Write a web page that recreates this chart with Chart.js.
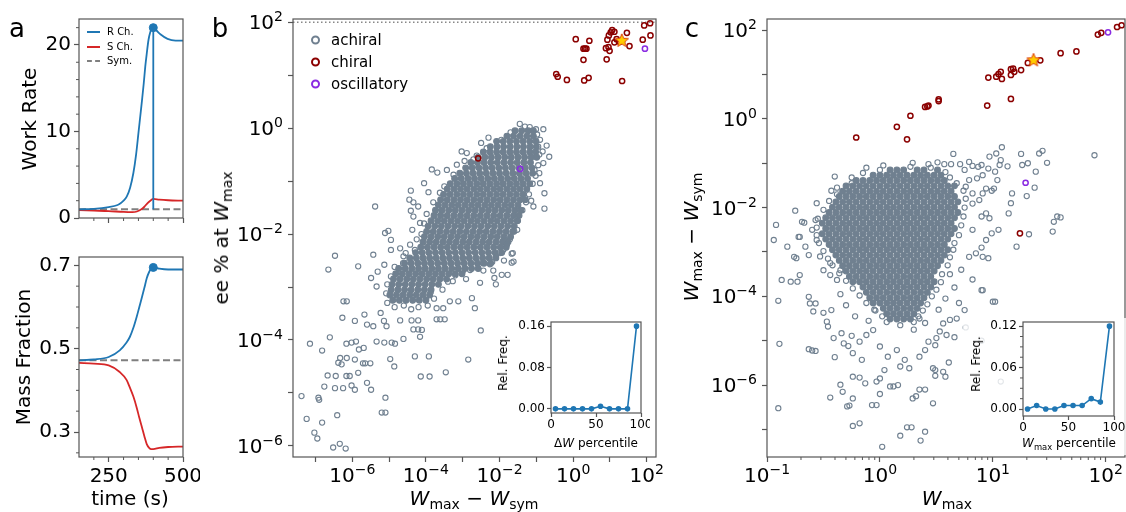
<!DOCTYPE html>
<html>
<head>
<meta charset="utf-8">
<title>work rate / chirality figure</title>
<script src="https://cdn.jsdelivr.net/npm/chart.js@4.4.1/dist/chart.umd.min.js"></script>
<style>
  body { margin: 0; background: #fff; }
  #fig { position: relative; width: 1126px; height: 512px; overflow: hidden; font-family: "DejaVu Sans", sans-serif; color: #000; }
  #fig canvas { position: absolute; }
  .t { position: absolute; white-space: nowrap; font-size: 20px; line-height: 1; transform: translate(-50%, -50%); }
  .t.v { transform: translate(-50%, -50%) rotate(-90deg); }
  .t sub { font-size: 70%; vertical-align: -0.3em; line-height: 0; }
  .t.small { font-size: 12px; }
  .t.panel { font-size: 26px; }
  .inset { background: rgba(255, 255, 255, 0.8); }
  .leg { position: absolute; font-size: 15px; line-height: 1; white-space: nowrap; transform: translateY(-50%); }
  .ring { position: absolute; left: -20px; top: 50%; width: 5px; height: 5px; margin-top: -4.5px; border: 2px solid; border-radius: 50%; }
  .lega { position: absolute; font-size: 10px; line-height: 1; white-space: nowrap; transform: translateY(-50%); }
  .lega span { position: absolute; left: -20px; top: 50%; width: 13px; margin-top: -1px; border-top: 2px solid; }
</style>
</head>
<body>
<div id="fig">
  <canvas id="cA1" width="200" height="230" style="left:0;top:0"></canvas>
  <canvas id="cA2" width="200" height="272" style="left:0;top:240px"></canvas>
  <canvas id="cB" width="470" height="512" style="left:200px;top:0"></canvas>
  <canvas id="cC" width="446" height="512" style="left:680px;top:0"></canvas>
  <canvas id="cBi" class="inset" width="160" height="137" style="left:490px;top:318px"></canvas>
  <canvas id="cCi" class="inset" width="163" height="137" style="left:963px;top:318px"></canvas>

  <div class="t panel" style="left:17px;top:28px">a</div>
  <div class="t panel" style="left:220px;top:28px">b</div>
  <div class="t panel" style="left:692px;top:28px">c</div>

  <div class="lega" style="left:107px;top:32px"><span style="border-color:#1f77b4"></span>R Ch.</div>
  <div class="lega" style="left:107px;top:47px"><span style="border-color:#d62728"></span>S Ch.</div>
  <div class="lega" style="left:107px;top:61px"><span style="border-color:#7f7f7f;border-top-style:dashed"></span>Sym.</div>

  <div class="leg" style="left:331px;top:40px"><span class="ring" style="border-color:#708090"></span>achiral</div>
  <div class="leg" style="left:331px;top:62px"><span class="ring" style="border-color:#8b0000"></span>chiral</div>
  <div class="leg" style="left:331px;top:84px"><span class="ring" style="border-color:#8a2be2"></span>oscillatory</div>

  <div class="t v" style="left:29px;top:119px">Work Rate</div>
  <div class="t v" style="left:23px;top:357px">Mass Fraction</div>
  <div class="t" style="left:130px;top:498px">time (s)</div>
  <div class="t v" style="left:221px;top:238px">ee % at <i>W</i><sub>max</sub></div>
  <div class="t" style="left:474px;top:498px"><i>W</i><sub>max</sub> − <i>W</i><sub>sym</sub></div>
  <div class="t v" style="left:691px;top:237px"><i>W</i><sub>max</sub> − <i>W</i><sub>sym</sub></div>
  <div class="t" style="left:947px;top:498px"><i>W</i><sub>max</sub></div>
  <div class="t v small" style="left:503px;top:363px">Rel. Freq.</div>
  <div class="t small" style="left:596px;top:443px">Δ<i>W</i> percentile</div>
  <div class="t v small" style="left:976px;top:364px">Rel. Freq.</div>
  <div class="t small" style="left:1069px;top:443px"><i>W</i><sub>max</sub> percentile</div>
</div>

<script>
// ---- panel a : work rate and mass fraction vs time ----
const tRate = [150,200,250,280,290,300,311,322,333,342,350,356,362,368,373,378,384,390,395,400,410,425,448,475,500];
const rateR = [1.0,1.05,1.25,1.5,1.7,2.0,2.5,3.5,5.2,7.3,9.8,11.7,13.6,15.6,17.5,19.0,20.6,21.5,21.9,22.0,21.7,21.2,20.7,20.5,20.5];
const tRateS = [150,200,250,300,330,345,360,370,380,390,400,420,450,500];
const rateS = [0.9,0.85,0.8,0.7,0.68,0.75,1.0,1.3,1.7,2.0,2.2,2.12,2.05,2.0];
const tSym = [150,500];
const rateSym = [1.0,1.0];
const tPeak = 400;
const ratePeak = 22.0;
const rateDrop = [1.0,22.0];

const tMass = [150,200,250,287,310,321,333,344,353,362,370,378,386,393,400,420,450,500];
const massR = [0.472,0.474,0.480,0.496,0.515,0.528,0.550,0.576,0.600,0.624,0.646,0.669,0.684,0.692,0.695,0.692,0.690,0.690];
const massS = [0.466,0.464,0.460,0.444,0.425,0.407,0.385,0.359,0.334,0.311,0.290,0.271,0.262,0.259,0.259,0.262,0.264,0.265];
const massSym = [0.472,0.472];
const massPeak = 0.695;

const aTicksX = [250,500];
const aMinorX = [200,300,350,400,450];
const rateTicks = [0,10,20];
const rateMinor = [2,4,6,8,12,14,16,18,22];
const massTicks = [0.3,0.5,0.7];
const massMinor = [0.25,0.35,0.4,0.45,0.55,0.6,0.65];

// ---- panel b : log10 of (Wmax - Wsym, ee %) ----
// dense core, one row per log10(ee) value
const bCoreRows = [
  [-0.05,[-1.58,-1.40,-1.22,-1.08]],
  [-0.15,[-1.80,-1.62,-1.44,-1.26,-1.08]],
  [-0.25,[-2.08,-1.90,-1.72,-1.54,-1.36,-1.18,-1.01]],
  [-0.35,[-2.25,-2.07,-1.89,-1.71,-1.53,-1.35,-1.17,-1.00]],
  [-0.45,[-2.44,-2.26,-2.08,-1.90,-1.72,-1.54,-1.36,-1.18,-1.02]],
  [-0.55,[-2.58,-2.40,-2.22,-2.04,-1.86,-1.68,-1.50,-1.32,-1.14,-0.99]],
  [-0.65,[-2.78,-2.60,-2.42,-2.24,-2.06,-1.88,-1.70,-1.52,-1.34,-1.16]],
  [-0.75,[-2.92,-2.74,-2.56,-2.38,-2.20,-2.02,-1.84,-1.66,-1.48,-1.30,-1.12]],
  [-0.85,[-3.08,-2.90,-2.72,-2.54,-2.36,-2.18,-2.00,-1.82,-1.64,-1.46,-1.28,-1.10]],
  [-0.95,[-3.22,-3.04,-2.86,-2.68,-2.50,-2.32,-2.14,-1.96,-1.78,-1.60,-1.42,-1.24]],
  [-1.05,[-3.34,-3.16,-2.98,-2.80,-2.62,-2.44,-2.26,-2.08,-1.90,-1.72,-1.54,-1.36,-1.18]],
  [-1.15,[-3.42,-3.24,-3.06,-2.88,-2.70,-2.52,-2.34,-2.16,-1.98,-1.80,-1.62,-1.44,-1.26]],
  [-1.25,[-3.52,-3.34,-3.16,-2.98,-2.80,-2.62,-2.44,-2.26,-2.08,-1.90,-1.72,-1.54,-1.36]],
  [-1.35,[-3.60,-3.42,-3.24,-3.06,-2.88,-2.70,-2.52,-2.34,-2.16,-1.98,-1.80,-1.62,-1.44,-1.30]],
  [-1.45,[-3.66,-3.48,-3.30,-3.12,-2.94,-2.76,-2.58,-2.40,-2.22,-2.04,-1.86,-1.68,-1.50]],
  [-1.55,[-3.74,-3.56,-3.38,-3.20,-3.02,-2.84,-2.66,-2.48,-2.30,-2.12,-1.94,-1.76,-1.58,-1.42]],
  [-1.65,[-3.78,-3.60,-3.42,-3.24,-3.06,-2.88,-2.70,-2.52,-2.34,-2.16,-1.98,-1.80,-1.62,-1.47]],
  [-1.75,[-3.86,-3.68,-3.50,-3.32,-3.14,-2.96,-2.78,-2.60,-2.42,-2.24,-2.06,-1.88,-1.70,-1.52]],
  [-1.85,[-3.94,-3.76,-3.58,-3.40,-3.22,-3.04,-2.86,-2.68,-2.50,-2.32,-2.14,-1.96,-1.78,-1.60]],
  [-1.95,[-3.98,-3.80,-3.62,-3.44,-3.26,-3.08,-2.90,-2.72,-2.54,-2.36,-2.18,-2.00,-1.82,-1.64]],
  [-2.05,[-4.04,-3.86,-3.68,-3.50,-3.32,-3.14,-2.96,-2.78,-2.60,-2.42,-2.24,-2.06,-1.88,-1.70]],
  [-2.15,[-4.08,-3.90,-3.72,-3.54,-3.36,-3.18,-3.00,-2.82,-2.64,-2.46,-2.28,-2.10,-1.92,-1.77]],
  [-2.25,[-4.14,-3.96,-3.78,-3.60,-3.42,-3.24,-3.06,-2.88,-2.70,-2.52,-2.34,-2.16,-1.98,-1.82]],
  [-2.35,[-4.28,-4.10,-3.92,-3.74,-3.56,-3.38,-3.20,-3.02,-2.84,-2.66,-2.48,-2.30,-2.12,-1.94]],
  [-2.45,[-4.44,-4.26,-4.08,-3.90,-3.72,-3.54,-3.36,-3.18,-3.00,-2.82,-2.64,-2.46,-2.28,-2.10]],
  [-2.55,[-4.58,-4.40,-4.22,-4.04,-3.86,-3.68,-3.50,-3.32,-3.14,-2.96,-2.78,-2.60,-2.42,-2.24]],
  [-2.65,[-4.74,-4.56,-4.38,-4.20,-4.02,-3.84,-3.66,-3.48,-3.30,-3.12,-2.94,-2.76,-2.58]],
  [-2.75,[-4.82,-4.64,-4.46,-4.28,-4.10,-3.92,-3.74,-3.56,-3.38,-3.20,-3.02]],
  [-2.85,[-4.88,-4.70,-4.52,-4.34,-4.16,-3.98,-3.80,-3.62,-3.44]],
  [-2.95,[-4.92,-4.74,-4.56,-4.38,-4.20,-4.02,-3.84,-3.66]],
  [-3.05,[-4.94,-4.76,-4.58,-4.40,-4.22,-4.04,-3.86]],
  [-3.15,[-4.98,-4.80,-4.62,-4.44,-4.26,-4.08,-3.90]],
  [-3.25,[-4.90,-4.72,-4.54,-4.36,-4.18,-4.00]]
];
const bAchiral = [
  [-1.31,0.03],[-1.18,0.02],[-1.01,-0.02],[-0.81,-0.02],[-0.90,-0.22],[-0.72,-0.33],[-0.83,-0.44],[-0.65,-0.54],
  [-0.81,-0.66],[-0.92,-0.85],[-1.05,-0.79],[-0.90,-1.04],[-0.78,-1.23],[-0.78,-1.52],[-1.08,-1.48],[-1.14,-1.37],
  [-1.52,-1.92],[-1.64,-2.36],[-1.62,-2.52],[-1.80,-2.20],[-1.99,-2.36],[-1.88,-2.50],
  [-3.03,-0.44],[-2.89,-0.47],[-2.71,-0.59],[-2.50,-0.28],[-3.16,-0.69],[-3.43,-0.79],[-3.84,-0.78],[-3.69,-0.84],
  [-4.05,-1.04],[-4.41,-1.18],[-3.93,-1.21],[-4.45,-1.35],[-4.34,-1.40],[-4.21,-1.48],[-4.41,-1.56],[-5.38,-1.48],
  [-4.34,-1.67],[-4.16,-1.79],[-4.37,-1.92],[-5.11,-1.98],[-5.02,-1.94],[-4.95,-2.11],[-4.95,-2.30],[-4.70,-2.27],
  [-4.43,-2.20],[-5.43,-2.39],[-5.13,-2.58],[-4.61,-2.42],[-6.47,-2.41],[-5.84,-2.61],[-6.65,-2.67],
  [-5.49,-2.83],[-5.34,-2.99],[-5.31,-2.71],[-6.24,-3.27],[-6.15,-3.27],[-6.27,-3.58],[-5.93,-3.64],[-5.67,-3.52],
  [-5.60,-3.71],[-5.43,-3.74],[-5.14,-3.64],[-5.23,-3.49],[-5.07,-3.74],[-4.70,-3.63],[-4.39,-3.63],[-4.21,-3.63],
  [-4.11,-3.81],[-4.16,-3.94],[-4.61,-3.98],[-4.84,-4.07],[-5.13,-4.05],[-4.93,-4.05],[-5.34,-4.03],[-5.90,-4.03],
  [-5.69,-4.15],[-5.82,-4.18],[-6.02,-4.05],[-6.16,-4.07],[-6.33,-4.34],[-6.15,-4.34],[-6.38,-4.43],[-6.29,-4.46],
  [-5.93,-4.37],[-5.71,-4.44],[-5.65,-4.44],[-5.51,-4.44],[-5.84,-4.62],[-6.61,-3.95],[-7.15,-4.07],[-6.82,-4.20],
  [-6.67,-4.67],[-6.45,-4.68],[-6.47,-4.91],[-6.16,-4.68],[-6.07,-4.68],[-6.25,-4.91],[-6.02,-4.86],[-5.93,-4.94],
  [-5.60,-4.81],[-5.49,-4.94],[-6.76,-4.88],[-6.92,-5.09],[-6.90,-5.13],[-7.38,-5.06],[-7.24,-5.49],[-6.82,-5.56],
  [-6.41,-5.42],[-7.03,-5.75],[-6.95,-5.86],[-6.52,-6.03],[-6.34,-5.96],[-6.18,-6.05],[-5.20,-5.37],[-5.10,-5.37],
  [-5.10,-5.09],[-4.97,-4.36],[-4.86,-4.50],[-4.30,-4.31],[-3.92,-4.31],[-4.14,-4.69],[-3.90,-4.69],[-3.46,-4.61],
  [-2.85,-4.37],[-2.51,-3.82],[-3.71,-3.61],[-3.61,-3.61],[-3.49,-3.61],[-4.21,-3.80],[-4.34,-3.80],[-3.35,-3.27],
  [-3.12,-3.27],[-3.71,-3.40],[-3.53,-3.40],[-3.87,-3.10],[-3.27,-2.89],[-2.91,-2.85],[-2.67,-3.40],[-2.75,-3.21],
  [-2.53,-2.92],[-2.44,-2.69],[-2.17,-2.69],[-2.26,-2.57],[-2.20,-2.53],[-2.10,-2.95],[-2.14,-2.83],[-1.94,-2.77],
  [-1.78,-2.77],[-1.67,-2.54],[-1.67,-2.37],
  // rim of the dense core
  [-2.30,-0.18],[-2.35,-0.38],[-2.62,-0.52],[-2.70,-0.70],[-2.95,-0.62],[-3.25,-0.88],[-3.10,-1.00],[-3.50,-1.10],
  [-3.62,-1.22],[-3.80,-1.40],[-3.70,-1.58],[-3.98,-1.62],[-4.05,-1.80],[-4.12,-2.00],[-4.25,-2.10],[-4.30,-2.30],
  [-4.55,-2.36],[-4.62,-2.55],[-4.85,-2.62],[-4.95,-2.80],[-5.05,-2.95],[-5.08,-3.12],[-5.05,-3.30],[-4.85,-3.38],
  [-4.60,-3.35],[-4.40,-3.42],[-4.20,-3.38],[-3.95,-3.35],[-3.78,-3.22],[-3.55,-3.05],[-3.40,-2.90],[-3.20,-2.78],
  [-3.00,-2.70],[-2.80,-2.68],[-2.45,-2.55],[-2.10,-2.40],[-1.90,-2.30],[-1.72,-2.10],[-1.60,-1.95],[-1.50,-1.75],
  [-1.38,-1.55],[-1.28,-1.40],[-1.20,-1.25],[-1.10,-1.05],[-1.02,-0.90],[-0.95,-0.70],[-0.92,-0.50],[-0.95,-0.35],
  [-0.98,-0.12],[-1.45,0.08],[-1.70,-0.08],[-1.95,-0.22]
];
const bChiral = [
  [-0.46,1.02],[-0.42,0.97],[-0.17,0.91],[0.07,1.68],[0.28,1.29],[0.28,1.50],[0.32,1.50],[0.36,1.50],[0.30,0.90],
  [0.42,0.95],[0.44,1.65],[0.91,1.30],[0.89,1.51],[0.96,1.53],[0.93,1.67],[0.97,1.75],[1.02,1.81],[1.06,1.85],
  [1.12,1.82],[0.99,1.46],[1.12,1.62],[1.18,1.68],[1.26,1.63],[1.46,1.80],[1.53,1.55],[1.33,0.89],[1.89,1.67],
  [1.93,1.94],[2.09,1.98],[2.10,1.75],[-2.58,-0.57]
];
const bOscillatory = [[1.95,1.50],[-1.44,-0.77]];
const bStar = [[1.32,1.65]];
const eeCeiling = 100;
const bRangeX = [2.45e-8, 178];
const bRangeY = [6.17e-7, 115];
const bTicksX = [1e-7,1e-6,1e-5,1e-4,1e-3,1e-2,1e-1,1,10,100];
const bTicksY = [1e-6,1e-5,1e-4,1e-3,1e-2,1e-1,1,10,100];

// ---- panel c : log10 of (Wmax, Wmax - Wsym) ----
const cCoreRows = [
  [-1.15,[0.09,0.15,0.21,0.33,0.39,0.51]],
  [-1.27,[-0.06,0.00,0.06,0.12,0.18,0.24,0.30,0.36,0.42,0.48,0.54]],
  [-1.39,[-0.21,-0.15,-0.09,-0.03,0.03,0.09,0.15,0.21,0.27,0.33,0.39,0.45,0.51,0.57]],
  [-1.51,[-0.30,-0.24,-0.18,-0.12,-0.06,0.00,0.06,0.12,0.18,0.24,0.30,0.36,0.42,0.48,0.54,0.60,0.66]],
  [-1.63,[-0.33,-0.27,-0.21,-0.15,-0.09,-0.03,0.03,0.09,0.15,0.21,0.27,0.33,0.39,0.45,0.51,0.57,0.63]],
  [-1.75,[-0.36,-0.30,-0.24,-0.18,-0.12,-0.06,0.00,0.06,0.12,0.18,0.24,0.30,0.36,0.42,0.48,0.54,0.60,0.66]],
  [-1.87,[-0.39,-0.33,-0.27,-0.21,-0.15,-0.09,-0.03,0.03,0.09,0.15,0.21,0.27,0.33,0.39,0.45,0.51,0.57,0.63,0.69]],
  [-1.99,[-0.42,-0.36,-0.30,-0.24,-0.18,-0.12,-0.06,0.00,0.06,0.12,0.18,0.24,0.30,0.36,0.42,0.48,0.54,0.60,0.66]],
  [-2.11,[-0.45,-0.39,-0.33,-0.27,-0.21,-0.15,-0.09,-0.03,0.03,0.09,0.15,0.21,0.27,0.33,0.39,0.45,0.51,0.57,0.63,0.69]],
  [-2.23,[-0.48,-0.42,-0.36,-0.30,-0.24,-0.18,-0.12,-0.06,0.00,0.06,0.12,0.18,0.24,0.30,0.36,0.42,0.48,0.54,0.60,0.66]],
  [-2.35,[-0.51,-0.45,-0.39,-0.33,-0.27,-0.21,-0.15,-0.09,-0.03,0.03,0.09,0.15,0.21,0.27,0.33,0.39,0.45,0.51,0.57,0.63]],
  [-2.47,[-0.48,-0.42,-0.36,-0.30,-0.24,-0.18,-0.12,-0.06,0.00,0.06,0.12,0.18,0.24,0.30,0.36,0.42,0.48,0.54,0.60,0.66]],
  [-2.59,[-0.51,-0.45,-0.39,-0.33,-0.27,-0.21,-0.15,-0.09,-0.03,0.03,0.09,0.15,0.21,0.27,0.33,0.39,0.45,0.51,0.57,0.63]],
  [-2.71,[-0.48,-0.42,-0.36,-0.30,-0.24,-0.18,-0.12,-0.06,0.00,0.06,0.12,0.18,0.24,0.30,0.36,0.42,0.48,0.54,0.60]],
  [-2.83,[-0.45,-0.39,-0.33,-0.27,-0.21,-0.15,-0.09,-0.03,0.03,0.09,0.15,0.21,0.27,0.33,0.39,0.45,0.51,0.57]],
  [-2.95,[-0.42,-0.36,-0.30,-0.24,-0.18,-0.12,-0.06,0.00,0.06,0.12,0.18,0.24,0.30,0.36,0.42,0.48,0.54,0.60]],
  [-3.07,[-0.39,-0.33,-0.27,-0.21,-0.15,-0.09,-0.03,0.03,0.09,0.15,0.21,0.27,0.33,0.39,0.45,0.51,0.57]],
  [-3.19,[-0.36,-0.30,-0.24,-0.18,-0.12,-0.06,0.00,0.06,0.12,0.18,0.24,0.30,0.36,0.42,0.48,0.54]],
  [-3.31,[-0.33,-0.27,-0.21,-0.15,-0.09,-0.03,0.03,0.09,0.15,0.21,0.27,0.33,0.39,0.45,0.51]],
  [-3.43,[-0.30,-0.24,-0.18,-0.12,-0.06,0.00,0.06,0.12,0.18,0.24,0.30,0.36,0.42,0.48]],
  [-3.55,[-0.27,-0.21,-0.15,-0.09,-0.03,0.03,0.09,0.15,0.21,0.27,0.33,0.39,0.45]],
  [-3.67,[-0.24,-0.18,-0.12,-0.06,0.00,0.06,0.12,0.18,0.24,0.30,0.36,0.42,0.48]],
  [-3.79,[-0.15,-0.09,-0.03,0.03,0.09,0.15,0.21,0.27,0.33,0.39,0.45]],
  [-3.91,[-0.12,-0.06,0.00,0.06,0.12,0.18,0.24,0.30,0.36,0.42]],
  [-4.03,[-0.09,-0.03,0.03,0.09,0.15,0.21,0.27,0.33,0.39]],
  [-4.15,[-0.06,0.00,0.06,0.12,0.18,0.24,0.30,0.36]],
  [-4.27,[0.03,0.09,0.15,0.21,0.27,0.33]],
  [-4.39,[0.06,0.12,0.18,0.24,0.30]],
  [-4.51,[0.09,0.15,0.21,0.27]]
];
const cAchiral = [
  [-0.25,-1.32],[-0.43,-1.62],[-0.56,-1.90],[-0.75,-2.07],[-0.92,-2.39],[-0.94,-2.73],[-0.82,-2.88],[-0.69,-2.32],
  [-0.67,-2.34],[-0.72,-2.66],[-0.71,-2.66],[-0.76,-3.11],[-0.74,-3.14],[-0.63,-3.07],[-0.66,-2.88],[-0.60,-2.50],
  [-0.56,-2.73],[-0.57,-2.28],[-0.38,-1.55],[-0.12,-1.10],[0.03,-1.05],[-0.40,-1.30],
  [0.29,-0.99],[0.43,-1.02],[0.51,-0.98],[0.57,-1.02],[0.65,-0.79],[0.63,-1.02],[0.71,-1.02],[0.75,-1.15],
  [0.79,-0.97],[0.82,-1.06],[0.87,-1.08],[0.90,-1.04],[0.91,-1.27],[0.97,-0.85],[1.03,-0.78],[1.07,-0.93],
  [0.96,-1.12],[1.02,-1.19],[1.04,-1.38],[1.06,-1.04],[1.13,-1.07],[1.08,-0.64],[1.25,-0.79],[1.26,-1.04],
  [1.31,-1.00],[1.38,-1.19],[1.41,-0.78],[1.44,-0.72],[1.48,-0.99],[1.90,-0.82],[1.37,-1.55],[1.30,-1.74],
  [1.17,-1.68],[1.16,-1.90],[1.14,-2.13],[1.21,-2.88],[1.32,-2.60],[1.57,-2.20],[1.60,-2.22],[1.54,-2.32],
  [1.53,-2.54],[1.05,-2.50],[0.99,-2.58],[0.94,-2.73],[0.90,-2.90],[0.88,-1.83],[0.91,-1.68],[0.94,-1.57],
  [0.99,-1.62],[1.01,-1.57],[0.94,-2.13],[0.90,-2.20],[0.97,-2.24],[0.82,-2.50],[0.85,-3.03],[0.79,-3.11],
  [0.91,-3.11],[0.96,-3.14],[0.82,-1.91],[0.79,-1.38],[0.86,-1.34],[0.76,-1.53],[0.82,-1.68],
  [0.62,-3.50],[0.66,-3.80],[0.72,-3.40],[0.58,-4.05],[0.70,-4.15],[0.52,-4.30],[-0.35,-3.95],[-0.30,-4.20],
  [-0.22,-4.45],[-0.10,-4.55],[0.40,-4.60],[0.30,-4.75],[-0.05,-4.30],[0.35,-4.50],
  [-0.90,-4.10],[-0.89,-5.07],[-0.90,-6.52],[-0.87,-3.63],[-0.79,-3.67],[-0.73,-3.67],[-0.71,-3.52],[-0.63,-4.01],
  [-0.62,-4.16],[-0.59,-4.34],[-0.57,-4.16],[-0.63,-5.19],[-0.60,-5.22],[-0.57,-5.23],[-0.50,-4.37],[-0.47,-4.57],
  [-0.46,-4.68],[-0.41,-4.94],[-0.40,-5.37],[-0.43,-4.31],[-0.44,-3.52],[-0.38,-3.63],[-0.35,-3.41],[-0.44,-3.25],
  [-0.53,-3.10],[-0.50,-3.41],[-0.34,-4.83],[-0.32,-5.06],[-0.28,-5.12],[-0.25,-4.89],[-0.24,-5.28],[-0.16,-5.43],
  [-0.18,-5.02],[-0.12,-4.87],[-0.06,-4.76],[0.00,-5.13],[0.04,-5.66],[0.00,-5.85],[-0.03,-5.92],[0.07,-5.36],
  [0.15,-5.21],[0.18,-5.58],[0.22,-5.43],[0.26,-5.62],[0.35,-5.36],[0.40,-5.21],[0.43,-5.02],[0.49,-5.10],
  [0.50,-4.94],[0.53,-4.79],[0.59,-4.87],[0.56,-4.61],[0.62,-4.53],[0.68,-4.50],[0.75,-4.31],[0.76,-4.70],
  [0.66,-4.92],[0.61,-5.49],[0.56,-5.70],[0.47,-5.62],[0.49,-5.66],[0.58,-5.81],[0.82,-3.62],[0.90,-3.86],
  [0.91,-3.86],[1.00,-4.12],[1.02,-4.12],[0.47,-6.41],[0.40,-7.05],[0.36,-7.25],[0.24,-6.95],[0.28,-6.95],
  [0.18,-7.14],[0.02,-7.39],[-0.18,-6.86],[-0.24,-6.92],[-0.29,-6.48],[-0.27,-6.46],[-0.33,-6.15],[-0.35,-5.99],
  [-0.44,-6.28],[-0.24,-6.30],[-0.07,-6.45],[-0.03,-6.45],[0.00,-6.20],[0.09,-6.03],[0.12,-6.03],[0.29,-6.30],
  [0.32,-6.25],[0.35,-6.10],[0.40,-6.10],[0.49,-5.79],[-0.24,-5.81],[-0.18,-5.83],[-0.13,-5.96],[0.16,-6.00],
  [0.90,-5.00],[1.07,-5.92],
  // rim of the dense core
  [0.00,-1.15],[-0.15,-1.22],[0.27,-1.08],[0.45,-1.10],[0.58,-1.20],[0.62,-1.32],[-0.25,-1.45],[0.68,-1.45],
  [-0.38,-1.70],[0.74,-1.62],[-0.45,-1.85],[0.76,-1.80],[-0.50,-2.05],[0.75,-2.00],[-0.55,-2.25],[0.74,-2.20],
  [-0.56,-2.45],[0.72,-2.40],[-0.56,-2.62],[0.70,-2.62],[-0.54,-2.80],[0.66,-2.80],[-0.50,-2.98],[0.65,-2.95],
  [-0.46,-3.15],[0.62,-3.12],[-0.42,-3.30],[0.60,-3.30],[-0.36,-3.48],[0.55,-3.50],[-0.30,-3.65],[0.54,-3.68],
  [-0.24,-3.82],[0.50,-3.85],[-0.18,-3.98],[0.46,-4.00],[-0.12,-4.15],[0.42,-4.18],[-0.04,-4.32],[0.38,-4.32],
  [0.02,-4.45],[0.34,-4.45],[0.06,-4.58],[0.30,-4.58],[0.18,-4.65]
];
const cChiral = [
  [-0.21,-0.42],[0.15,-0.18],[0.24,-0.46],[0.27,0.07],[0.40,0.27],[0.42,0.28],[0.43,0.30],[0.52,0.44],[0.52,0.40],
  [0.95,0.30],[1.16,0.45],[0.96,0.93],[1.03,0.95],[1.05,1.01],[1.07,1.06],[1.08,0.90],[1.16,0.99],[1.16,1.12],
  [1.18,1.13],[1.19,1.06],[1.25,1.10],[1.31,1.26],[1.42,1.32],[1.60,1.48],[1.74,1.52],[1.93,1.90],[1.96,1.94],
  [2.10,2.07],[2.14,2.11],[1.24,-2.58]
];
const cOscillatory = [[2.02,1.95],[1.29,-1.44]];
const cStar = [[1.36,1.32]];
const cRangeX = [0.1, 148];
const cRangeY = [2.4e-8, 178];
const cTicksX = [0.1,1,10,100];
const cMinorX = [0.2,0.3,0.4,0.5,0.6,0.7,0.8,0.9,2,3,4,5,6,7,8,9,20,30,40,50,60,70,80,90];
const cTicksY = [1e-7,1e-6,1e-5,1e-4,1e-3,1e-2,1e-1,1,10,100];

// ---- insets : relative frequency per percentile bin ----
const pctBins = [5,15,25,35,45,55,65,75,85,95];
const relFreqB = [0,0,0,0,0,0.005,0,0,0,0.16];
const relFreqC = [0,0.005,0,0,0.005,0.005,0.005,0.015,0.01,0.12];
const pctTicks = [0,50,100];
const relTicksB = [0,0.08,0.16];
const relTicksC = [0,0.06,0.12];
const relMinorC = [0.015,0.03,0.045,0.075,0.09,0.105];

// ---------------------------------------------------------------
const FONT = 'DejaVu Sans';
const EDGE = '#555';
const BLUE = '#1f77b4', RED = '#d62728', GREY = '#7f7f7f';
const ACHIRAL = '#708090', CHIRAL = '#8b0000', OSC = '#8a2be2';

const xy = (xs, ys) => xs.map((x, i) => ({x: x, y: ys[i]}));
const fromLog = arr => arr.map(p => ({x: Math.pow(10, p[0]), y: Math.pow(10, p[1])}));
const fromRows = rows => rows.flatMap(r => r[1].map(lx => ({x: Math.pow(10, lx), y: Math.pow(10, r[0])})));

// "10" with a raised exponent, like the mathtext labels
function drawPow(c, v, x, y, align) {
  const e = String(Math.round(Math.log10(v))).replace('-', '\u2212');
  c.font = '20px "' + FONT + '"';
  const wb = c.measureText('10').width;
  c.font = '14px "' + FONT + '"';
  const we = c.measureText(e).width;
  const left = align === 'center' ? x - (wb + we) / 2 : x - wb - we;
  c.textAlign = 'left'; c.textBaseline = 'alphabetic'; c.fillStyle = '#000';
  c.font = '20px "' + FONT + '"'; c.fillText('10', left, y);
  c.font = '14px "' + FONT + '"'; c.fillText(e, left + wb, y - 8);
}
function expLabels(xEven, yEven) {
  return {
    id: 'expLabels',
    afterDraw(chart) {
      const a = chart.chartArea, c = chart.ctx;
      c.save();
      chart.scales.x.ticks.forEach(t => {
        if (xEven && Math.round(Math.log10(t.value)) % 2 !== 0) return;
        drawPow(c, t.value, chart.scales.x.getPixelForValue(t.value), a.bottom + 25, 'center');
      });
      chart.scales.y.ticks.forEach(t => {
        if (yEven && Math.round(Math.log10(t.value)) % 2 !== 0) return;
        drawPow(c, t.value, a.left - 10, chart.scales.y.getPixelForValue(t.value) + 7, 'right');
      });
      c.restore();
    }
  };
}

// box around the plot area, optional white fill
function frame(fillWhite) {
  return {
    id: 'frame',
    beforeDatasetsDraw(chart) {
      if (!fillWhite) return;
      const a = chart.chartArea, c = chart.ctx;
      c.save(); c.fillStyle = '#fff'; c.fillRect(a.left, a.top, a.right - a.left, a.bottom - a.top); c.restore();
    },
    afterDraw(chart) {
      const a = chart.chartArea, c = chart.ctx;
      c.save(); c.strokeStyle = EDGE; c.lineWidth = 1.2;
      c.strokeRect(a.left, a.top, a.right - a.left, a.bottom - a.top);
      c.restore();
    }
  };
}

// short unlabeled ticks
function minor(xs, ys) {
  return {
    id: 'minor',
    afterDraw(chart) {
      const a = chart.chartArea, c = chart.ctx;
      c.save(); c.strokeStyle = EDGE; c.lineWidth = 1;
      (xs || []).forEach(v => {
        const p = chart.scales.x.getPixelForValue(v);
        if (p < a.left - 0.5 || p > a.right + 0.5) return;
        c.beginPath(); c.moveTo(p, a.bottom); c.lineTo(p, a.bottom + 3); c.stroke();
      });
      (ys || []).forEach(v => {
        const p = chart.scales.y.getPixelForValue(v);
        if (p < a.top - 0.5 || p > a.bottom + 0.5) return;
        c.beginPath(); c.moveTo(a.left, p); c.lineTo(a.left - 3, p); c.stroke();
      });
      c.restore();
    }
  };
}

function axis(o) {
  return {
    type: o.type || 'linear',
    position: o.pos,
    min: o.min, max: o.max, bounds: 'data',
    grid: {display: true, drawOnChartArea: false, drawTicks: true, tickLength: o.tick || 5, tickColor: EDGE, tickWidth: 1.2},
    border: {display: false},
    ticks: {
      display: !o.hide, autoSkip: false, maxRotation: 0, minRotation: 0, padding: o.pad === undefined ? 3 : o.pad,
      color: '#000', font: {family: FONT, size: o.size || 20}, callback: o.label || (() => '')
    },
    afterBuildTicks: s => { s.ticks = o.major.map(v => ({value: v})); },
    afterFit: s => {
      if (o.pos === 'left') s.width = o.fit; else s.height = o.fit;
      s.paddingLeft = s.paddingRight = s.paddingTop = s.paddingBottom = 0;
    }
  };
}

function baseOptions(pad, xCfg, yCfg) {
  return {
    responsive: false, animation: false, events: [],
    layout: {autoPadding: false, padding: pad},
    plugins: {legend: {display: false}, tooltip: {enabled: false}},
    scales: {x: xCfg, y: yCfg}
  };
}

function curve(data, color, extra) {
  return Object.assign({data: data, showLine: true, borderColor: color, backgroundColor: color, borderWidth: 1.8,
    pointRadius: 0, cubicInterpolationMode: 'monotone', fill: false}, extra || {});
}

function rings(data, color, width, filled) {
  return {data: data, showLine: false, pointRadius: filled ? 2.9 : 2.6, pointStyle: 'circle',
    borderColor: color, backgroundColor: filled ? color : 'rgba(0,0,0,0)', borderWidth: width || 1.1};
}

function starImage(size) {
  const cv = document.createElement('canvas');
  cv.width = cv.height = size;
  const g = cv.getContext('2d'), r = size / 2 - 1, m = size / 2;
  g.beginPath();
  for (let i = 0; i < 10; i++) {
    const ang = -Math.PI / 2 + i * Math.PI / 5, rr = i % 2 ? r * 0.45 : r;
    g.lineTo(m + rr * Math.cos(ang), m + rr * Math.sin(ang));
  }
  g.closePath();
  g.fillStyle = '#ffcc00'; g.fill();
  g.strokeStyle = '#e0400a'; g.lineWidth = 1; g.stroke();
  return cv;
}
const STAR = starImage(16);

// ---- a, top: work rate ----
new Chart(document.getElementById('cA1'), {
  type: 'scatter',
  data: {datasets: [
    {data: [{x: tPeak, y: ratePeak}], showLine: false, pointRadius: 4, backgroundColor: BLUE, borderColor: BLUE},
    curve(xy([tPeak, tPeak], rateDrop), BLUE, {cubicInterpolationMode: 'default', tension: 0}),
    curve(xy(tRate, rateR), BLUE),
    curve(xy(tRateS, rateS), RED),
    curve(xy(tSym, rateSym), GREY, {borderDash: [7, 3.5], borderWidth: 2})
  ]},
  options: baseOptions({top: 19, right: 17, left: 0, bottom: 0},
    axis({pos: 'bottom', min: 150, max: 500, major: aTicksX, label: () => '', fit: 12}),
    axis({pos: 'left', min: 0, max: 23, major: rateTicks, label: v => String(v), fit: 79})),
  plugins: [frame(false), minor(aMinorX, rateMinor)]
});

// ---- a, bottom: mass fraction ----
new Chart(document.getElementById('cA2'), {
  type: 'scatter',
  data: {datasets: [
    {data: [{x: tPeak, y: massPeak}], showLine: false, pointRadius: 4, backgroundColor: BLUE, borderColor: BLUE},
    curve(xy(tMass, massR), BLUE),
    curve(xy(tMass, massS), RED),
    curve(xy(tSym, massSym), GREY, {borderDash: [7, 3.5], borderWidth: 2})
  ]},
  options: baseOptions({top: 17, right: 17, left: 0, bottom: 0},
    axis({pos: 'bottom', min: 150, max: 500, major: aTicksX, label: v => String(v), fit: 55}),
    axis({pos: 'left', min: 0.24, max: 0.72, major: massTicks, label: v => v.toFixed(1), fit: 79})),
  plugins: [frame(false), minor(aMinorX, massMinor)]
});

// ---- b ----
new Chart(document.getElementById('cB'), {
  type: 'scatter',
  data: {datasets: [
    {data: fromLog(bStar), showLine: false, pointStyle: STAR, pointRadius: 8},
    rings(fromLog(bOscillatory), OSC, 1.5),
    rings(fromLog(bChiral), CHIRAL, 1.5),
    {data: [{x: bRangeX[0], y: eeCeiling}, {x: bRangeX[1], y: eeCeiling}], showLine: true, pointRadius: 0,
      borderColor: '#888', borderWidth: 1.5, borderDash: [1.5, 2.5]},
    rings(fromLog(bAchiral), ACHIRAL),
    rings(fromRows(bCoreRows), ACHIRAL, 1.1, true)
  ]},
  options: baseOptions({top: 19, right: 14, left: 0, bottom: 0},
    axis({type: 'logarithmic', pos: 'bottom', min: bRangeX[0], max: bRangeX[1], major: bTicksX, hide: true, fit: 55}),
    axis({type: 'logarithmic', pos: 'left', min: bRangeY[0], max: bRangeY[1], major: bTicksY, hide: true, fit: 93})),
  plugins: [frame(false), expLabels(true, true)]
});

// ---- c ----
new Chart(document.getElementById('cC'), {
  type: 'scatter',
  data: {datasets: [
    {data: fromLog(cStar), showLine: false, pointStyle: STAR, pointRadius: 8},
    rings(fromLog(cOscillatory), OSC, 1.5),
    rings(fromLog(cChiral), CHIRAL, 1.5),
    rings(fromLog(cAchiral), ACHIRAL),
    rings(fromRows(cCoreRows), ACHIRAL, 1.1, true)
  ]},
  options: baseOptions({top: 19, right: 1, left: 0, bottom: 0},
    axis({type: 'logarithmic', pos: 'bottom', min: cRangeX[0], max: cRangeX[1], major: cTicksX, hide: true, fit: 55}),
    axis({type: 'logarithmic', pos: 'left', min: cRangeY[0], max: cRangeY[1], major: cTicksY, hide: true, fit: 87})),
  plugins: [frame(false), minor(cMinorX, null), expLabels(false, true)]
});

// ---- insets ----
function inset(id, freq, yMin, yMax, yTicks, yMinor, pad, yFit, xFit) {
  new Chart(document.getElementById(id), {
    type: 'scatter',
    data: {datasets: [
      curve(xy(pctBins, freq), BLUE, {cubicInterpolationMode: 'default', tension: 0, pointRadius: 2, borderWidth: 1.6})
    ]},
    options: baseOptions(pad,
      axis({pos: 'bottom', min: 0, max: 100, major: pctTicks, label: v => String(v), fit: xFit, size: 12, tick: 4, pad: 1}),
      axis({pos: 'left', min: yMin, max: yMax, major: yTicks, label: v => v.toFixed(2), fit: yFit, size: 12, tick: 4, pad: 2})),
    plugins: [frame(true), minor(null, yMinor)]
  });
}
inset('cBi', relFreqB, -0.008, 0.168, relTicksB, null, {top: 4, right: 9, left: 0, bottom: 0}, 61, 42);
inset('cCi', relFreqC, -0.0101, 0.126, relTicksC, relMinorC, {top: 4, right: 12, left: 0, bottom: 0}, 60, 39);
</script>
</body>
</html>
